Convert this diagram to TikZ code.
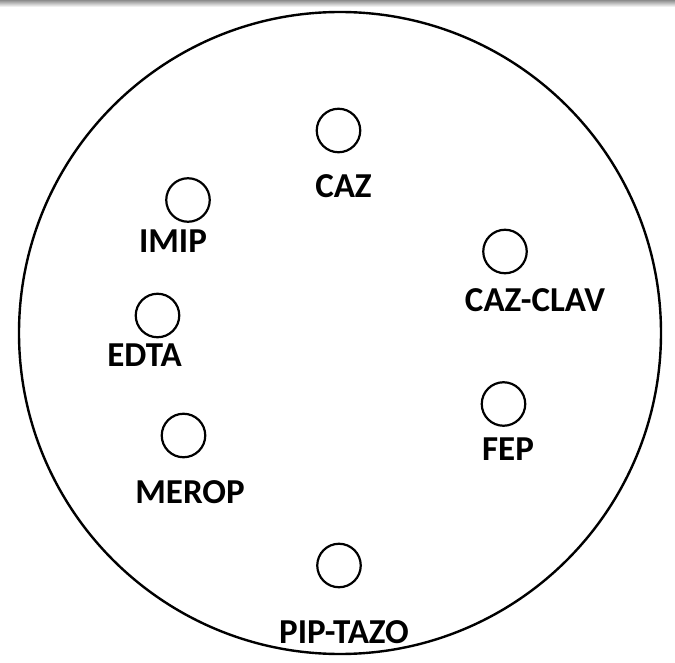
\documentclass[tikz,border=0pt]{standalone}
\usepackage{fontspec}
\setmainfont{Carlito}
\begin{document}
\begin{tikzpicture}[x=1pt,y=-1pt,
  disc/.style={draw=black,line width=2.2pt,circle,minimum size=43.5pt,inner sep=0pt},
  lbl/.style={font=\bfseries\fontsize{35}{40}\selectfont,inner sep=0pt,anchor=center}]
\useasboundingbox (0,0) rectangle (675,663);
\fill[white] (0,0) rectangle (675,663);
\shade[top color=black!45,bottom color=white] (0,0) rectangle (675,7);
\node[draw=black,line width=2.4pt,circle,minimum size=642pt,inner sep=0pt] (plate) at (340,333) {};
\node[disc] (c1) at (338.5,130.5) {};
\node[lbl] (l1) at (343.5,186.5) {CAZ};
\node[disc] (c2) at (188,200) {};
\node[lbl] (l2) at (173,241) {IMIP};
\node[disc] (c3) at (505,251.5) {};
\node[lbl] (l3) at (535,300) {CAZ-CLAV};
\node[disc] (c4) at (157.5,315.5) {};
\node[lbl] (l4) at (144.5,355) {EDTA};
\node[disc] (c5) at (503.5,404) {};
\node[lbl] (l5) at (508,449) {FEP};
\node[disc] (c6) at (183.5,435.5) {};
\node[lbl] (l6) at (190,492.5) {MEROP};
\node[disc] (c7) at (339,565.5) {};
\node[lbl] (l7) at (344,632) {PIP-TAZO};
\end{tikzpicture}
\end{document}
